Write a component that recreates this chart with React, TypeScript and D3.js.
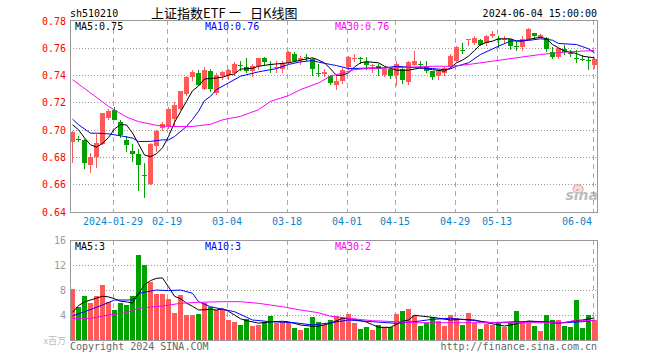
import React, { useEffect, useRef } from "react";
import * as d3 from "d3";

// trading days shown, 2024
const dates = [
  "01-18", "01-19", "01-22", "01-23", "01-24", "01-25", "01-26", "01-29", "01-30", "01-31",
  "02-01", "02-02", "02-05", "02-06", "02-07", "02-08", "02-19", "02-20", "02-21", "02-22",
  "02-23", "02-26", "02-27", "02-28", "02-29", "03-01", "03-04", "03-05", "03-06", "03-07",
  "03-08", "03-11", "03-12", "03-13", "03-14", "03-15", "03-18", "03-19", "03-20", "03-21",
  "03-22", "03-25", "03-26", "03-27", "03-28", "03-29", "04-01", "04-02", "04-03", "04-08",
  "04-09", "04-10", "04-11", "04-12", "04-15", "04-16", "04-17", "04-18", "04-19", "04-22",
  "04-23", "04-24", "04-25", "04-26", "04-29", "04-30", "05-06", "05-07", "05-08", "05-09",
  "05-10", "05-13", "05-14", "05-15", "05-16", "05-17", "05-20", "05-21", "05-22", "05-23",
  "05-24", "05-27", "05-28", "05-29", "05-30", "05-31", "06-03", "06-04",
];

const open = [
  0.691, 0.6935, 0.6927, 0.6745, 0.68, 0.6895, 0.7086, 0.7147, 0.7056, 0.6926,
  0.6846, 0.6824, 0.6672, 0.66, 0.6878, 0.7012, 0.7024, 0.7078, 0.7154, 0.7262,
  0.7384, 0.7416, 0.73, 0.743, 0.727, 0.7392, 0.7404, 0.7416, 0.7475, 0.746,
  0.7429, 0.7465, 0.7522, 0.7484, 0.7457, 0.7448, 0.749, 0.7558, 0.7509, 0.7532,
  0.7519, 0.7418, 0.741, 0.7392, 0.7331, 0.736, 0.746, 0.752, 0.7527, 0.7497,
  0.747, 0.747, 0.7399, 0.7446, 0.7399, 0.7448, 0.7348, 0.7473, 0.7482, 0.746,
  0.7429, 0.7392, 0.7416, 0.746, 0.7507, 0.7585, 0.7658, 0.7637, 0.7654, 0.7637,
  0.7686, 0.7662, 0.7664, 0.7661, 0.7613, 0.7605, 0.7666, 0.771, 0.7673, 0.7673,
  0.757, 0.7534, 0.7588, 0.756, 0.7528, 0.752, 0.7508, 0.7473,
];
const close = [
  0.698, 0.693, 0.676, 0.6797, 0.69, 0.712, 0.714, 0.7073, 0.6958, 0.6885,
  0.6826, 0.6743, 0.6665, 0.6895, 0.6993, 0.7042, 0.7154, 0.7184, 0.7282, 0.7384,
  0.7421, 0.7331, 0.7441, 0.73, 0.74, 0.7421, 0.744, 0.7485, 0.7472, 0.7429,
  0.747, 0.7522, 0.7497, 0.7482, 0.746, 0.749, 0.757, 0.7507, 0.7526, 0.753,
  0.7448, 0.7416, 0.7421, 0.7343, 0.736, 0.7441, 0.7531, 0.7527, 0.7524, 0.7473,
  0.7473, 0.7446, 0.7446, 0.7392, 0.7482, 0.7367, 0.7497, 0.7502, 0.7473, 0.7429,
  0.7384, 0.7429, 0.7453, 0.7539, 0.7605, 0.7583, 0.7662, 0.7669, 0.7624, 0.769,
  0.7703, 0.7659, 0.7666, 0.7612, 0.7611, 0.7666, 0.7735, 0.7686, 0.7693, 0.7588,
  0.7534, 0.76, 0.757, 0.7558, 0.7527, 0.7519, 0.7507, 0.7519,
];
const high = [
  0.699, 0.6956, 0.693, 0.683, 0.697, 0.7125, 0.7155, 0.7167, 0.7073, 0.6956,
  0.6895, 0.6858, 0.6755, 0.69, 0.7, 0.7056, 0.7166, 0.72, 0.7287, 0.7392,
  0.744, 0.7434, 0.7458, 0.7448, 0.7416, 0.7433, 0.7448, 0.7495, 0.7507, 0.7522,
  0.7478, 0.7527, 0.7531, 0.7507, 0.7502, 0.7502, 0.7576, 0.7573, 0.7538, 0.7556,
  0.7527, 0.7482, 0.7446, 0.7404, 0.7404, 0.7453, 0.7538, 0.7556, 0.7534, 0.7534,
  0.7482, 0.7478, 0.7458, 0.7458, 0.7507, 0.7458, 0.7502, 0.7576, 0.7507, 0.7507,
  0.7433, 0.7433, 0.746, 0.7556, 0.7612, 0.7632, 0.7666, 0.7686, 0.7666, 0.7693,
  0.7722, 0.769, 0.769, 0.7666, 0.7642, 0.7686, 0.7745, 0.771, 0.7698, 0.7681,
  0.7607, 0.76, 0.7617, 0.7583, 0.7583, 0.7544, 0.753, 0.7527,
];
const low = [
  0.676, 0.691, 0.671, 0.668, 0.672, 0.689, 0.707, 0.7068, 0.6939, 0.684,
  0.6767, 0.6554, 0.65, 0.6595, 0.6838, 0.6993, 0.7003, 0.7024, 0.7144, 0.725,
  0.7355, 0.732, 0.729, 0.7277, 0.7252, 0.7362, 0.7362, 0.7392, 0.7429, 0.7416,
  0.7384, 0.7441, 0.7473, 0.7416, 0.7416, 0.7416, 0.7482, 0.7497, 0.7473, 0.7502,
  0.7392, 0.7384, 0.7384, 0.7326, 0.7294, 0.7338, 0.7441, 0.7497, 0.748, 0.7441,
  0.7416, 0.7392, 0.7384, 0.7375, 0.7321, 0.7335, 0.7326, 0.7465, 0.7448, 0.7416,
  0.7362, 0.7362, 0.7392, 0.7448, 0.7497, 0.7558, 0.7612, 0.762, 0.7612, 0.7612,
  0.7669, 0.76, 0.7637, 0.7583, 0.7576, 0.7576, 0.7661, 0.7666, 0.7666, 0.7568,
  0.7519, 0.7519, 0.7544, 0.7534, 0.749, 0.7502, 0.7436, 0.7446,
];

// volume, millions
const volume = [
  8.16, 5.33, 7.04, 5.97, 7.04, 8.8, 6.13, 4.8, 5.97, 5.6,
  7.04, 13.6, 12.0, 9.33, 7.36, 7.36, 6.56, 4.37, 7.2, 4.0,
  4.0, 4.16, 5.87, 5.33, 4.8, 4.9, 3.2, 2.93, 2.4, 3.36,
  2.24, 2.4, 2.93, 3.84, 2.77, 2.93, 2.93, 1.97, 1.6, 1.97,
  3.63, 2.93, 2.4, 3.2, 3.84, 3.63, 4.16, 2.77, 1.76, 2.03,
  1.6, 2.4, 2.03, 2.03, 4.16, 4.64, 4.96, 4.0, 2.24, 2.77,
  3.63, 3.09, 2.24, 4.0, 3.57, 2.4, 4.37, 2.77, 1.76, 2.56,
  2.4, 2.67, 2.13, 2.93, 4.64, 2.93, 2.77, 2.24, 1.49, 4.0,
  3.2, 3.2, 2.24, 2.13, 6.4, 1.97, 4.0, 3.2,
];

// moving averages: [day index, value]
const ma5 = [
  [0, 0.7037], [1, 0.7], [2, 0.694], [3, 0.689], [4, 0.6873], [5, 0.69], [6, 0.6943], [7, 0.7006],
  [8, 0.7038], [9, 0.7035], [10, 0.6976], [11, 0.6897], [12, 0.6815], [13, 0.6803], [14, 0.6824],
  [15, 0.6868], [16, 0.695], [17, 0.7054], [18, 0.7131], [19, 0.7209], [20, 0.7285], [21, 0.732],
  [22, 0.7372], [23, 0.7375], [24, 0.7379], [25, 0.7385], [26, 0.74], [27, 0.7409], [28, 0.7444],
  [30, 0.745], [31, 0.7465], [33, 0.7478], [34, 0.7482], [36, 0.749], [38, 0.7509], [40, 0.7527],
  [41, 0.751], [42, 0.749], [43, 0.7446], [44, 0.7398], [45, 0.74], [46, 0.7416], [47, 0.746],
  [48, 0.749], [49, 0.7499], [51, 0.749], [52, 0.7465], [54, 0.7436], [56, 0.7436], [58, 0.7453],
  [60, 0.744], [62, 0.7429], [63, 0.7453], [64, 0.749], [65, 0.751], [66, 0.7539], [67, 0.758],
  [68, 0.7624], [69, 0.764], [70, 0.7649], [71, 0.7666], [73, 0.7666], [74, 0.7649], [75, 0.765],
  [76, 0.7661], [78, 0.7678], [79, 0.7666], [80, 0.7624], [81, 0.76], [82, 0.7576], [84, 0.7558],
  [85, 0.7539], [87, 0.7526],
];
const ma10 = [
  [0, 0.7078], [1, 0.7037], [3, 0.6975], [4, 0.6975], [6, 0.697], [8, 0.6956], [10, 0.6939],
  [11, 0.6914], [13, 0.6915], [15, 0.6926], [16, 0.6926], [17, 0.695], [19, 0.7024], [20, 0.7076],
  [21, 0.7135], [22, 0.7213], [23, 0.7245], [24, 0.7294], [26, 0.7343], [28, 0.7392], [31, 0.7424],
  [34, 0.7448], [36, 0.7478], [38, 0.7497], [40, 0.7507], [41, 0.7495], [43, 0.7478], [44, 0.747],
  [46, 0.7448], [48, 0.745], [50, 0.7453], [52, 0.7453], [54, 0.7465], [57, 0.7455], [60, 0.7448],
  [62, 0.744], [63, 0.7446], [64, 0.7465], [66, 0.749], [68, 0.7551], [71, 0.7612], [73, 0.7649],
  [76, 0.7654], [78, 0.7666], [80, 0.7656], [81, 0.7632], [84, 0.7624], [86, 0.7593], [87, 0.7562],
];
const ma30 = [
  [0, 0.7367], [3, 0.727], [6, 0.7171], [9, 0.7093], [11, 0.706], [14, 0.7032], [16, 0.7024],
  [18, 0.7024], [20, 0.7024], [23, 0.704], [25, 0.7073], [28, 0.7098], [31, 0.7147], [33, 0.7208],
  [36, 0.725], [38, 0.7294], [41, 0.7343], [43, 0.7392], [45, 0.7416], [47, 0.744], [49, 0.7448],
  [53, 0.7453], [56, 0.7458], [60, 0.7465], [63, 0.7465], [66, 0.7478], [70, 0.7502], [74, 0.7527],
  [78, 0.7551], [82, 0.7568], [85, 0.7576], [87, 0.758],
];
const vma5 = [
  [0, 4.43], [1, 5.5], [2, 6.1], [4, 6.7], [5, 7.0], [6, 6.9], [7, 6.6], [8, 6.2], [9, 6.1],
  [10, 5.9], [11, 7.4], [12, 8.84], [13, 9.5], [14, 9.87], [15, 9.93], [16, 8.52], [17, 7.0],
  [18, 6.6], [19, 5.9], [20, 5.4], [21, 4.8], [22, 4.85], [23, 4.9], [24, 4.8], [25, 5.0],
  [26, 4.6], [27, 4.0], [28, 3.4], [29, 3.1], [31, 2.7], [33, 2.9], [35, 3.0], [36, 2.9],
  [38, 2.4], [40, 2.2], [41, 2.2], [43, 2.67], [45, 3.47], [47, 3.31], [49, 2.87], [50, 2.46],
  [51, 2.03], [53, 2.03], [55, 3.0], [56, 3.2], [57, 3.96], [58, 3.84], [60, 3.63], [63, 3.2],
  [65, 3.31], [67, 3.2], [69, 2.77], [72, 2.24], [73, 2.4], [76, 3.04], [78, 2.93], [81, 2.67],
  [83, 2.95], [85, 3.2], [87, 3.54],
];
const vma10 = [
  [0, 3.84], [2, 4.53], [5, 5.6], [7, 6.4], [10, 6.4], [11, 7.47], [14, 8.0], [16, 7.9],
  [18, 8.0], [20, 7.47], [21, 6.13], [23, 5.33], [27, 4.53], [30, 3.2], [33, 2.93], [37, 2.77],
  [40, 2.4], [43, 2.75], [46, 3.2], [50, 2.93], [54, 2.67], [57, 2.93], [60, 3.31], [63, 3.47],
  [66, 3.2], [70, 2.77], [74, 2.93], [78, 2.93], [82, 2.77], [85, 2.93], [87, 3.2],
];
const vma30 = [
  [0, 3.47], [3, 3.47], [6, 4.0], [9, 4.37], [11, 5.07], [15, 5.44], [18, 5.87], [21, 6.03],
  [25, 6.13], [28, 6.13], [31, 5.87], [35, 5.33], [38, 4.8], [41, 4.37], [43, 3.8], [46, 3.47],
  [50, 3.09], [54, 2.93], [57, 2.77], [65, 2.77], [76, 2.77], [82, 2.77], [84, 3.2], [87, 3.09],
];

const priceTicks = [0.64, 0.66, 0.68, 0.7, 0.72, 0.74, 0.76, 0.78];
const volTicks = [4, 8, 12, 16];
const dateTicks = ["01-29", "02-19", "03-04", "03-18", "04-01", "04-15", "04-29", "05-13", "06-04"];
const dateLabels = ["2024-01-29", "02-19", "03-04", "03-18", "04-01", "04-15", "04-29", "05-13", "06-04"];

const RED = "#ff5a5a";
const GREEN = "#00a200";
const MONO = "'DejaVu Sans Mono', 'Liberation Mono', monospace";
const CJK = "'Noto Sans CJK SC', sans-serif";

const KChart = () => {
  const ref = useRef<SVGSVGElement>(null);

  useEffect(() => {
    document.body.style.margin = "0";
    const left = 70;
    const right = 597;
    const top = 20;
    const bottom = 212;
    const vTop = 240;
    const vBottom = 340;

    const x = d3.scaleBand().domain(dates).range([left, left + dates.length * 6]).padding(0);
    const y = d3.scaleLinear().domain([0.64, 0.78]).range([211.7, 20.5]);
    const yv = d3.scaleLinear().domain([0, 16]).range([vBottom, vTop]);
    const bw = x.bandwidth() - 1;
    const xi = (i: number) => x(dates[i]) ?? 0;

    const svg = d3.select(ref.current);
    svg.selectAll("*").remove();

    const addText = (tx: number, ty: number, t: string, fill = "#000", anchor = "start", font = MONO, size = 10) =>
      svg
        .append("text")
        .attr("x", tx)
        .attr("y", ty)
        .attr("text-anchor", anchor)
        .attr("font-family", font)
        .attr("font-size", size)
        .attr("fill", fill)
        .text(t);

    // header
    addText(70, 16.5, "sh510210");
    addText(151, 17.5, "上证指数ETF", "#000", "start", CJK, 13);
    addText(229, 17.5, "一", "#000", "start", CJK, 12);
    addText(250, 17.5, "日K线图", "#000", "start", CJK, 13);
    addText(right, 16.5, "2024-06-04 15:00:00", "#000", "end");

    // grids
    const grid = svg.append("g").attr("shape-rendering", "crispEdges");
    priceTicks.slice(1, -1).forEach((p) => {
      grid
        .append("line")
        .attr("x1", left)
        .attr("x2", right)
        .attr("y1", Math.round(y(p)) + 0.5)
        .attr("y2", Math.round(y(p)) + 0.5)
        .attr("stroke", "#999")
        .attr("stroke-dasharray", "1,2");
    });
    volTicks.slice(0, -1).forEach((v) => {
      grid
        .append("line")
        .attr("x1", left)
        .attr("x2", right)
        .attr("y1", Math.round(yv(v)) + 0.5)
        .attr("y2", Math.round(yv(v)) + 0.5)
        .attr("stroke", "#999")
        .attr("stroke-dasharray", "1,2");
    });
    dateTicks.forEach((d) => {
      const gx = (x(d) ?? 0) + 1.5;
      [
        [top, bottom],
        [vTop, vBottom],
      ].forEach(([a, b]) => {
        grid
          .append("line")
          .attr("x1", gx)
          .attr("x2", gx)
          .attr("y1", a)
          .attr("y2", b)
          .attr("stroke", "#aaa")
          .attr("stroke-dasharray", "5,4");
      });
    });

    // candles and volume bars
    const idx = d3.range(dates.length);
    const colorOf = (i: number) => (close[i] >= open[i] ? RED : GREEN);
    const marks = svg.append("g").attr("shape-rendering", "crispEdges");
    idx.forEach((i) => {
      marks
        .append("line")
        .attr("x1", xi(i) + 2.5)
        .attr("x2", xi(i) + 2.5)
        .attr("y1", y(high[i]))
        .attr("y2", y(low[i]))
        .attr("stroke", colorOf(i));
      marks
        .append("rect")
        .attr("x", xi(i))
        .attr("y", y(Math.max(open[i], close[i])))
        .attr("width", bw)
        .attr("height", Math.max(1, Math.abs(y(open[i]) - y(close[i]))))
        .attr("fill", colorOf(i));
      marks
        .append("rect")
        .attr("x", xi(i))
        .attr("y", yv(volume[i]))
        .attr("width", bw)
        .attr("height", vBottom - yv(volume[i]))
        .attr("fill", colorOf(i));
    });

    // moving averages
    const maLine = d3
      .line<number[]>()
      .x((d) => xi(d[0]) + 2.5)
      .y((d) => y(d[1]));
    const vLine = d3
      .line<number[]>()
      .x((d) => xi(d[0]) + 2.5)
      .y((d) => yv(d[1]));
    const drawLine = (data: number[][], gen: any, color: string) =>
      svg.append("path").attr("fill", "none").attr("stroke", color).attr("stroke-width", 1).attr("d", gen(data));
    drawLine(ma5, maLine, "#000");
    drawLine(ma10, maLine, "#0000ff");
    drawLine(ma30, maLine, "#ff00ff");
    drawLine(vma5, vLine, "#000");
    drawLine(vma10, vLine, "#0000ff");
    drawLine(vma30, vLine, "#ff00ff");

    // sina watermark
    const logo = svg.append("g").attr("opacity", 0.55);
    logo
      .append("ellipse")
      .attr("cx", 578)
      .attr("cy", 189)
      .attr("rx", 5)
      .attr("ry", 4)
      .attr("fill", "#fbb")
      .attr("stroke", "#f07070")
      .attr("stroke-width", 1.5);
    logo
      .append("text")
      .attr("x", 598)
      .attr("y", 200)
      .attr("text-anchor", "end")
      .attr("font-family", "'DejaVu Sans', sans-serif")
      .attr("font-size", 14)
      .attr("font-weight", "bold")
      .attr("font-style", "italic")
      .attr("fill", "#888")
      .text("sina");

    // frames
    [
      [top, bottom],
      [vTop, vBottom],
    ].forEach(([a, b]) => {
      svg
        .append("rect")
        .attr("x", left + 0.5)
        .attr("y", a + 0.5)
        .attr("width", right - left)
        .attr("height", b - a)
        .attr("fill", "none")
        .attr("stroke", "#999")
        .attr("shape-rendering", "crispEdges");
    });

    // axis labels
    priceTicks.forEach((p) => addText(66, y(p) + 4, p.toFixed(2), "#f00", "end"));
    volTicks.forEach((v) => addText(66, yv(v) + 4, String(v), "#999", "end"));
    addText(66, 344, "x百万", "#bbb", "end", CJK, 9);
    dateTicks.forEach((d, i) => {
      const last = i === dateTicks.length - 1;
      addText(last ? 592 : (x(d) ?? 0) + 1, 225, dateLabels[i], "#0b84cc", last ? "end" : "middle");
    });

    // legends
    addText(75, 29.5, "MA5:0.75", "#000");
    addText(205, 29.5, "MA10:0.76", "#0000ff");
    addText(335, 29.5, "MA30:0.76", "#ff00ff");
    addText(75, 250, "MA5:3", "#000");
    addText(205, 250, "MA10:3", "#0000ff");
    addText(335, 250, "MA30:2", "#ff00ff");

    // footer
    addText(70, 350, "Copyright 2024 SINA.COM", "#666");
    addText(right, 350, "http://finance.sina.com.cn", "#666", "end");
  }, []);

  return <svg ref={ref} width={660} height={360} style={{ display: "block", background: "#fff" }}></svg>;
};

export default function App() {
  return <KChart />;
}
